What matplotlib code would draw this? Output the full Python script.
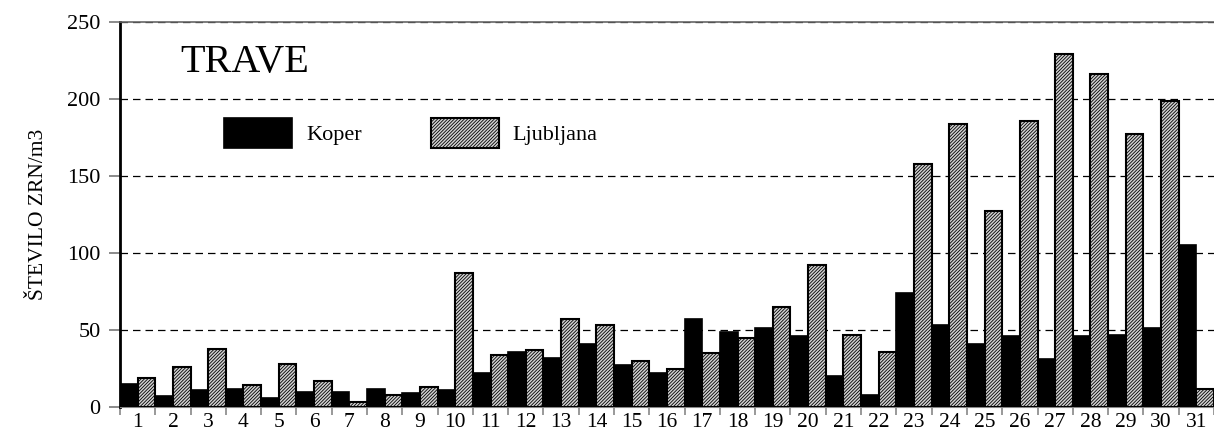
import matplotlib
matplotlib.use('Agg')
import matplotlib.pyplot as plt
import numpy as np

days = [str(d) for d in range(1, 32)]
koper = [15, 7, 11, 12, 6, 10, 10, 12, 9, 11, 22, 36, 32, 41, 27, 22, 57, 49, 51, 46,
         20, 8, 74, 53, 41, 46, 31, 46, 47, 51, 105]
ljubljana = [19, 26, 38, 14, 28, 17, 3, 8, 13, 87, 34, 37, 57, 53, 30, 25, 35, 45, 65, 92,
             47, 36, 158, 184, 127, 186, 229, 216, 177, 199, 12]
y_ticks = [0, 50, 100, 150, 200, 250]

plt.rcParams['font.family'] = ['Liberation Serif', 'DejaVu Serif']
plt.rcParams['hatch.color'] = '#333333'
plt.rcParams['hatch.linewidth'] = 0.6

fig = plt.figure(figsize=(12.14, 4.33), dpi=100)
ax = fig.add_axes([0.0988, 0.060, 0.9012, 0.889])

x = np.arange(1, len(days) + 1)
w = 0.5
b1 = ax.bar(x - w / 2, koper, width=w, color='black', edgecolor='black',
            linewidth=1.2, label='Koper', zorder=3)
b2 = ax.bar(x + w / 2, ljubljana, width=w, color='#d2d2d2', edgecolor='black',
            linewidth=1.5, hatch='//////////', label='Ljubljana', zorder=3)

ax.set_xlim(0.5, 31.17)
ax.set_ylim(0, 250)
ax.set_yticks(y_ticks)
ax.set_xticks(x)
ax.set_xticklabels(days)
ax.set_xticks(np.arange(0.5, 32, 1), minor=True)
ax.tick_params(axis='x', which='major', length=0, pad=4, labelsize=15.5)
ax.tick_params(axis='x', which='minor', length=6, width=1.2, color='#888888')
ax.tick_params(axis='y', length=8, width=1.2, color='#777777', pad=6, labelsize=16)

ax.yaxis.grid(True, linestyle=(0, (6, 4)), color='black', linewidth=0.9, zorder=0)
ax.set_axisbelow(True)

ax.spines['left'].set_linewidth(2)
ax.spines['left'].set_color('black')
ax.spines['top'].set_color('#666666')
ax.spines['top'].set_linewidth(1.2)
ax.spines['right'].set_visible(False)
ax.spines['bottom'].set_color('#888888')

ax.set_ylabel('ŠTEVILO ZRN/m3', fontsize=15.5, labelpad=14)

ax.text(0.055, 0.894, 'TRAVE', transform=ax.transAxes, fontsize=29, va='center')

ax.legend(handles=[b1, b2], loc='upper left', bbox_to_anchor=(224 / 1214, 1 - 118 / 433),
          bbox_transform=fig.transFigure, ncol=2, frameon=False, fontsize=16,
          handlelength=3.06, handleheight=1.67, handletextpad=0.63, columnspacing=3.1,
          borderpad=0, borderaxespad=0)

fig.savefig('out.png', dpi=100)
